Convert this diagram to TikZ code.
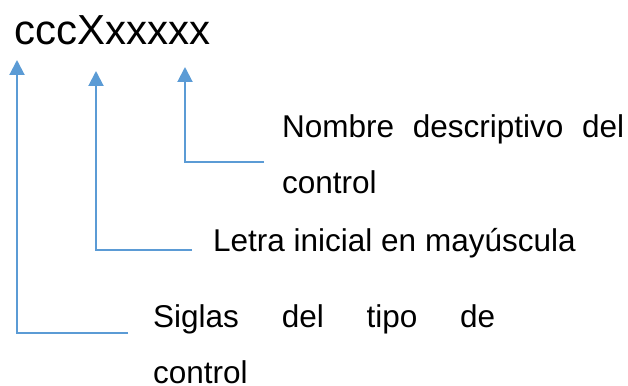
\documentclass[tikz,border=0pt]{standalone}
\usepackage{fontspec}
\setmainfont{Liberation Sans}
\usetikzlibrary{arrows.meta}
\definecolor{azul}{HTML}{5B9BD5}

\begin{document}
\begin{tikzpicture}[x=1pt, y=-1pt,
    arr/.style={draw=azul, line width=2pt, -{Triangle[width=15pt, length=15pt]}},
    etiq/.style={anchor=base west, inner sep=0pt, font=\fontsize{31.5}{56}\selectfont},
    parr/.style={etiq, text width=342pt, align=justify}]
    \useasboundingbox (0,0) rectangle (628,385);

    \node[anchor=base west, inner sep=0pt, font=\fontsize{42}{50}\selectfont] (nombre) at (14,45) {cccXxxxxx};
    \node[parr] (desc) at (282,137) {Nombre descriptivo del\linebreak control};
    \node[etiq] (letra) at (213,251) {Letra inicial en mayúscula};
    \node[parr] (siglas) at (153,327) {Siglas del tipo de\linebreak control};

    \coordinate (A) at (17,60);
    \coordinate (B) at (96,71);
    \coordinate (C) at (185,67);
    \coordinate (D) at (128,333);
    \coordinate (E) at (192,250);
    \coordinate (F) at (264,162);

    \draw[arr] (D) -| (A);
    \draw[arr] (E) -| (B);
    \draw[arr] (F) -| (C);
\end{tikzpicture}
\end{document}
